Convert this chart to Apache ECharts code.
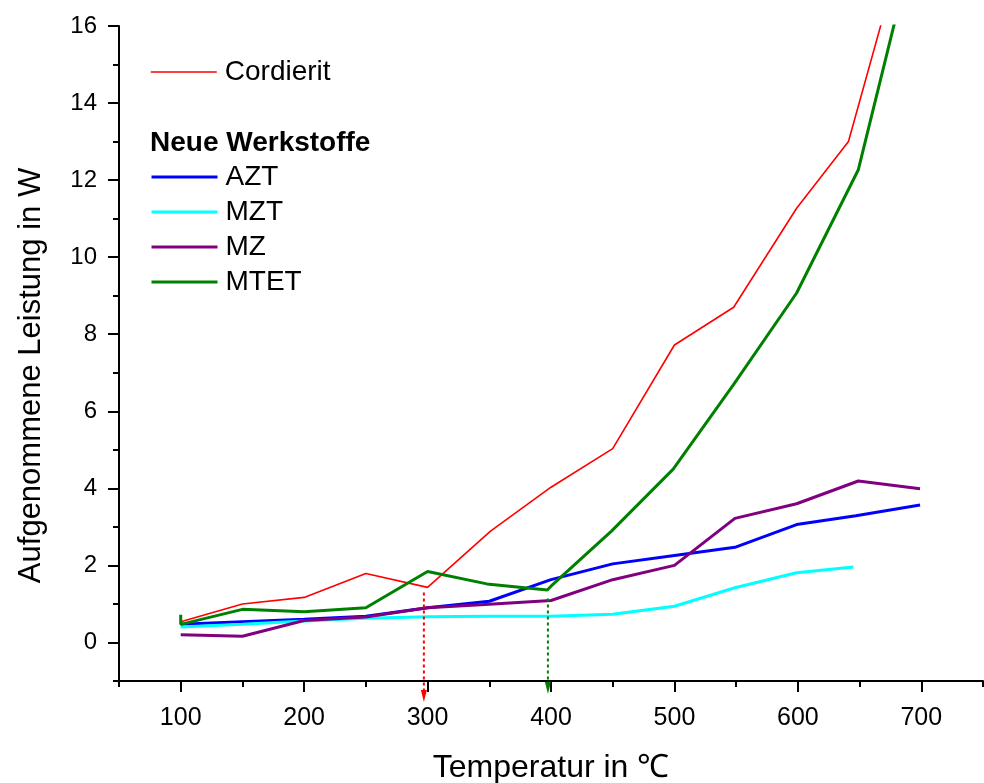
<!DOCTYPE html>
<html>
<head>
<meta charset="utf-8">
<script src="https://cdn.jsdelivr.net/npm/echarts@6/dist/echarts.min.js"></script>
<style>
  html, body { margin: 0; padding: 0; background: #fff; }
  #chart { width: 984px; height: 783px; }
</style>
</head>
<body>
<div id="chart"></div>
<script>
// temperature (°C) and absorbed power (W)
const tempCordierit  = [100, 150, 200, 250, 300, 351, 400, 450, 500, 548, 599, 641, 700];
const powerCordierit = [0.54, 1.00, 1.17, 1.79, 1.43, 2.89, 4.03, 5.03, 7.72, 8.70, 11.27, 13.0, 19.8];

const tempAZT  = [100, 150, 200, 250, 300, 350, 400, 450, 500, 549, 599, 647, 699];
const powerAZT = [0.47, 0.54, 0.60, 0.68, 0.90, 1.07, 1.63, 2.04, 2.26, 2.47, 3.06, 3.29, 3.57];

const tempMZT  = [100, 150, 200, 250, 300, 350, 400, 450, 500, 549, 599, 645];
const powerMZT = [0.40, 0.47, 0.56, 0.63, 0.67, 0.68, 0.68, 0.73, 0.94, 1.42, 1.81, 1.96];

const tempMZ  = [100, 150, 200, 250, 300, 350, 400, 450, 500, 549, 599, 649, 699];
const powerMZ = [0.20, 0.16, 0.57, 0.66, 0.90, 0.99, 1.09, 1.63, 2.00, 3.22, 3.60, 4.19, 3.99];

const tempMTET  = [100, 100, 150, 200, 250, 300, 348, 397, 400, 449, 499, 548, 599, 649, 700];
const powerMTET = [0.72, 0.47, 0.86, 0.80, 0.90, 1.84, 1.52, 1.36, 1.46, 2.89, 4.50, 6.70, 9.07, 12.27, 18.9];

// dotted marker arrows (start, arrow head)
const redArrowT   = [297, 297];
const redArrowP   = [1.30, -1.39];
const greenArrowT = [397.5, 397.5];
const greenArrowP = [1.14, -1.18];

const xTickLabels = [100, 200, 300, 400, 500, 600, 700];
const yTickLabels = [0, 2, 4, 6, 8, 10, 12, 14, 16];

const font = "'Liberation Sans', Arial, sans-serif";

function pairs(t, p) {
    return t.map(function (x, i) { return [x, p[i]]; });
}

function arrowData(t, p) {
    return [
        [t[0], p[0]],
        {value: [t[1], p[1]], symbol: 'triangle', symbolRotate: 180, symbolSize: [6, 12]}
    ];
}

function lineSeries(name, t, p, color, width) {
    return {
        name: name,
        type: 'line',
        data: pairs(t, p),
        symbol: 'none',
        color: color,
        lineStyle: {color: color, width: width},
        animation: false
    };
}

function arrowSeries(t, p, color) {
    return {
        type: 'line',
        data: arrowData(t, p),
        symbol: 'none',
        showSymbol: true,
        clip: false,
        silent: true,
        z: 5,
        itemStyle: {color: color},
        lineStyle: {color: color, width: 2, type: [3, 3]},
        animation: false
    };
}

function legendBlock(names, top, lineWidth) {
    return {
        data: names,
        orient: 'vertical',
        left: 145, top: top,
        itemWidth: 66, itemHeight: 24, itemGap: 7,
        itemStyle: {color: 'rgba(0,0,0,0)', borderWidth: 0, opacity: 0},
        lineStyle: {width: lineWidth},
        textStyle: {fontFamily: font, fontSize: 28, color: '#000', padding: [0, 0, 0, 3]}
    };
}

const chart = echarts.init(document.getElementById('chart'));

const axisCommon = {
    type: 'value',
    splitLine: {show: false},
    axisLine: {show: true, onZero: false, lineStyle: {color: '#000', width: 2}},
    axisTick: {show: true, inside: false, length: 6, lineStyle: {color: '#000', width: 2}}
};

chart.setOption({
    animation: false,
    grid: {left: 119, right: 1, top: 26, bottom: 102, containLabel: false, outerBoundsMode: 'none'},
    title: {
        text: 'Neue Werkstoffe',
        left: 145, top: 124,
        textStyle: {fontFamily: font, fontSize: 28, fontWeight: 'bold', color: '#000'}
    },
    legend: [
        legendBlock(['Cordierit'], 53, 1.6),
        legendBlock(['AZT', 'MZT', 'MZ', 'MTET'], 158, 3)
    ],
    xAxis: [
        Object.assign({}, axisCommon, {
            min: 50, max: 750, interval: 50,
            position: 'bottom',
            name: 'Temperatur in ℃',
            nameLocation: 'middle',
            nameGap: 71,
            nameTextStyle: {fontFamily: font, fontSize: 32, color: '#000'},
            axisLabel: {customValues: xTickLabels, margin: 25, fontFamily: font, fontSize: 25, color: '#000'}
        }),
        {
            type: 'value', min: 50, max: 750, position: 'bottom',
            splitLine: {show: false},
            axisLine: {show: false, onZero: false},
            axisLabel: {show: false},
            axisTick: {show: true, customValues: xTickLabels, length: 11, lineStyle: {color: '#000', width: 2}}
        }
    ],
    yAxis: [
        Object.assign({}, axisCommon, {
            min: -1, max: 16, interval: 1,
            position: 'left',
            name: 'Aufgenommene Leistung in W',
            nameLocation: 'middle',
            nameGap: 72,
            nameTextStyle: {fontFamily: font, fontSize: 31, color: '#000', padding: [0, 44, 0, 0]},
            axisLabel: {customValues: yTickLabels, margin: 22, fontFamily: font, fontSize: 24, color: '#000'}
        }),
        {
            type: 'value', min: -1, max: 16, position: 'left',
            splitLine: {show: false},
            axisLine: {show: false, onZero: false},
            axisLabel: {show: false},
            axisTick: {show: true, customValues: yTickLabels, length: 11, lineStyle: {color: '#000', width: 2}}
        }
    ],
    series: [
        lineSeries('Cordierit', tempCordierit, powerCordierit, '#ff0000', 1.6),
        lineSeries('AZT', tempAZT, powerAZT, '#0000ff', 3),
        lineSeries('MZT', tempMZT, powerMZT, '#00ffff', 3),
        lineSeries('MZ', tempMZ, powerMZ, '#800080', 3),
        lineSeries('MTET', tempMTET, powerMTET, '#008000', 3),
        arrowSeries(redArrowT, redArrowP, '#ff0000'),
        arrowSeries(greenArrowT, greenArrowP, '#008000')
    ]
});
</script>
</body>
</html>
